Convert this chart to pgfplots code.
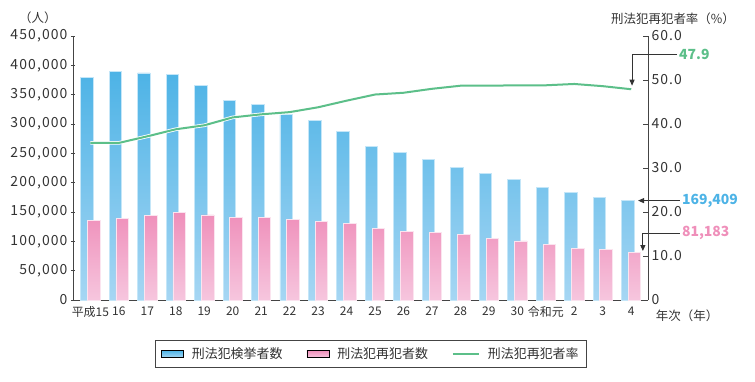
\documentclass[border=0pt]{standalone}
\usepackage{fontspec}
\setmainfont{Noto Sans CJK JP}
\newfontfamily\numfont[LetterSpace=8]{Noto Sans CJK JP}
\usepackage{pgfplots}
\pgfplotsset{compat=1.18}
\usetikzlibrary{arrows.meta}
\definecolor{bluetop}{HTML}{4DB3E6}
\definecolor{bluebot}{HTML}{A6D6F3}
\definecolor{blueedge}{HTML}{C4E6F8}
\definecolor{pinktop}{HTML}{EF8FBA}
\definecolor{pinkbot}{HTML}{F6C6DE}
\definecolor{pinkedge}{HTML}{FBE4EF}
\definecolor{lgreen}{HTML}{5CBF89}
\definecolor{axgray}{HTML}{444444}
\definecolor{txtgray}{HTML}{333333}

\pgfplotstableread{
x arrested reoffenders rate
0  379602 135295 35.7
1  389027 138997 35.7
2  386955 144116 37.2
3  384250 149164 38.8
4  365577 145052 39.7
5  339752 140939 41.5
6  332888 140431 42.2
7  316500 137614 42.7
8  305631 134100 43.8
9  287021 130077 45.3
10 262486 122638 46.7
11 251115 117103 47.1
12 239355 114944 48.0
13 226376 111205 48.7
14 215003 104774 48.7
15 206094 100601 48.8
16 192607  93967 48.8
17 182582  88143 49.1
18 175041  86034 48.6
19 169409  81183 47.9
}\datatable

\begin{document}
\begin{tikzpicture}
\useasboundingbox (-73bp,-82bp) rectangle (682bp,300bp);
\begin{axis}[
  at={(0,0)}, anchor=south west,
  scale only axis, width=575bp, height=264bp,
  xmin=-0.61, xmax=19.59, ymin=0, ymax=450000,
  axis lines*=left,
  axis line style={axgray, line width=0.9bp},
  clip=false,
  xtick={0,...,19},
  xticklabels={平成15,16,17,18,19,20,21,22,23,24,25,26,27,28,29,30,令和元,2,3,4},
  major x tick style={draw=none},
  x tick label style={font=\fontsize{12}{13}\selectfont, text=txtgray, yshift=-1bp},
  ytick={0,50000,...,450000},
  scaled y ticks=false,
  y tick label style={font=\numfont\fontsize{14}{15}\selectfont, text=txtgray},
  /pgf/number format/.cd, fixed, 1000 sep={,}, assume math mode=true,
  /pgfplots/.cd,
  ytick style={axgray, line width=0.9bp},
  major tick length=4bp,
  tick align=center,
]
\addplot[ybar, bar width=0.44, bar shift=-0.12, draw=blueedge, line width=0.8bp,
  top color=bluetop, bottom color=bluebot] table[x=x, y=arrested]{\datatable};
\addplot[ybar, bar width=0.44, bar shift=0.12, draw=pinkedge, line width=0.8bp,
  top color=pinktop, bottom color=pinkbot] table[x=x, y=reoffenders]{\datatable};

\draw[txtgray, line width=0.9bp, -{Triangle[length=6bp,width=5bp]}]
  (axis cs:20.71,169409) -- (axis cs:19.24,169409);
\node[anchor=west, inner sep=2bp, text=bluetop, font=\bfseries\fontsize{14}{15}\selectfont]
  at (axis cs:20.71,169409) {169,409};
\draw[txtgray, line width=0.9bp, -{Triangle[length=6bp,width=5bp]}]
  (axis cs:20.71,114200) -- (axis cs:19.41,114200) -- (axis cs:19.41,83500);
\node[anchor=west, inner sep=2bp, text=pinktop, font=\bfseries\fontsize{14}{15}\selectfont]
  at (axis cs:20.71,114200) {81,183};

\node[text=txtgray, font=\fontsize{12.5}{14}\selectfont] at (rel axis cs:-0.061,1.068) {（人）};
\node[text=txtgray, font=\fontsize{12.5}{14}\selectfont] at (rel axis cs:1.0435,1.064) {刑法犯再犯者率（\%）};
\node[text=txtgray, font=\fontsize{12.5}{14}\selectfont] at (rel axis cs:1.068,-0.06) {年次（年）};
\end{axis}

\begin{axis}[
  at={(0,0)}, anchor=south west,
  scale only axis, width=575bp, height=264bp,
  xmin=-0.61, xmax=19.59, ymin=0, ymax=60,
  axis x line=none,
  axis y line*=right,
  axis line style={axgray, line width=0.9bp},
  clip=false,
  ytick={0,10,...,60},
  yticklabels={0,10.0,20.0,30.0,40.0,50.0,60.0},
  y tick label style={font=\numfont\fontsize{14}{15}\selectfont, text=txtgray},
  ytick style={axgray, line width=0.9bp},
  major tick length=5bp,
  tick align=inside,
  legend style={at={(0.518,-0.2045)}, anchor=center, draw=axgray, line width=0.8bp,
    font=\fontsize{13}{15}\selectfont, text=txtgray, inner xsep=6bp, inner ysep=5bp,
    /tikz/every odd column/.append style={column sep=6bp},
    /tikz/every even column/.append style={column sep=22bp}},
  legend columns=3,
]
\addlegendimage{legend image code/.code={\shade[top color=bluetop, bottom color=bluebot] (0bp,-3.5bp) rectangle (22bp,3.5bp);}}
\addlegendentry{刑法犯検挙者数}
\addlegendimage{legend image code/.code={\shade[top color=pinktop, bottom color=pinkbot] (0bp,-3.5bp) rectangle (22bp,3.5bp);}}
\addlegendentry{刑法犯再犯者数}
\addplot[white, line width=3.6bp, forget plot] table[x=x, y=rate]{\datatable};
\addplot[lgreen, line width=2bp,
  legend image code/.code={\draw[lgreen, line width=2bp] (0bp,0bp) -- (26bp,0bp);}]
  table[x=x, y=rate]{\datatable};
\addlegendentry{刑法犯再犯者率}

\draw[txtgray, line width=0.9bp, -{Triangle[length=6bp,width=5bp]}]
  (axis cs:20.61,55.7) -- (axis cs:19.03,55.7) -- (axis cs:19.03,48.7);
\node[anchor=west, inner sep=2bp, text=lgreen, font=\bfseries\fontsize{14}{15}\selectfont]
  at (axis cs:20.61,55.7) {47.9};
\end{axis}
\end{tikzpicture}
\end{document}
